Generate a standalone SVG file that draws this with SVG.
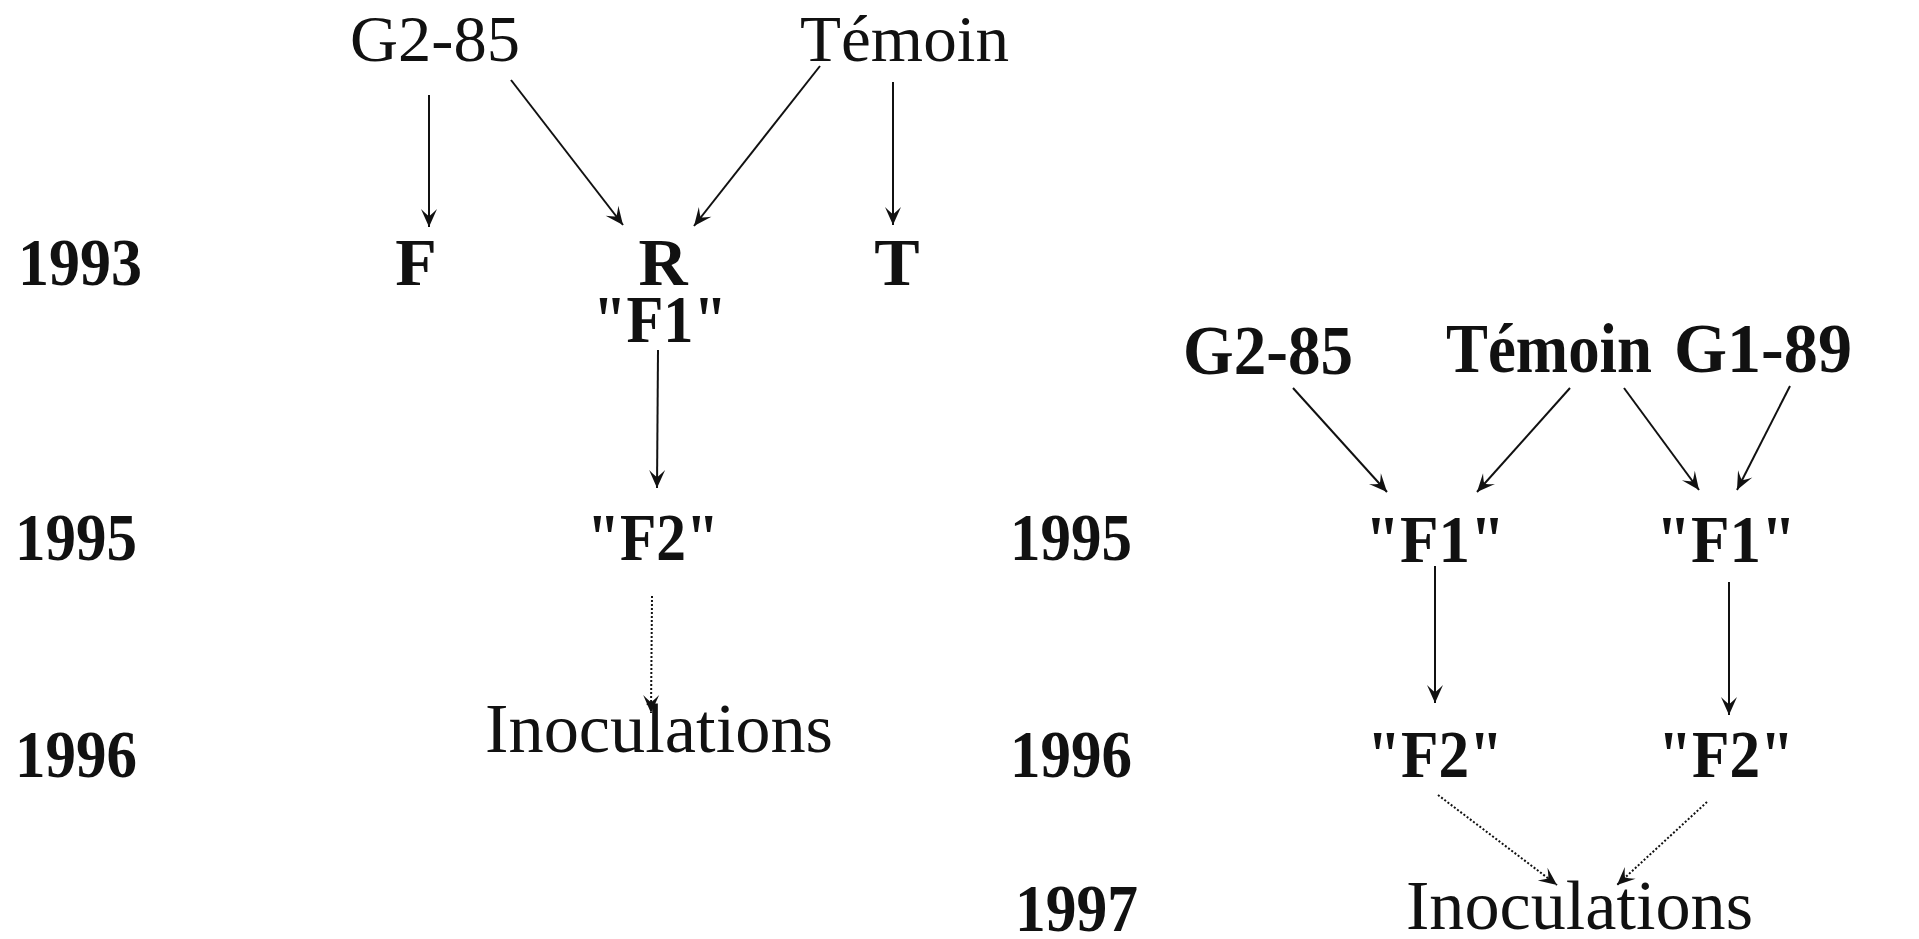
<svg xmlns="http://www.w3.org/2000/svg" width="1919" height="939" viewBox="0 0 1919 939">
  <style>
    text { font-family: "Liberation Serif", "Times New Roman", serif; fill: #111; }
    .lab { font-size: 66px; font-weight: normal; }
    .labb { font-size: 70px; font-weight: bold; }
    .yr { font-size: 67px; font-weight: bold; }
    .gen { font-size: 68px; font-weight: bold; }
    .ino { font-size: 70px; font-weight: normal; }
    .edge { stroke: #111; stroke-width: 2; fill: none; marker-end: url(#ah); }
    .dot { stroke-dasharray: 2 2; }
  </style>
  <defs>
    <marker id="ah" viewBox="-20 -10 22 20" refX="0" refY="0" markerWidth="22" markerHeight="20" orient="auto" markerUnits="userSpaceOnUse">
      <path d="M0,0 L-18,-8 Q-12,-2 -11,0 Q-12,2 -18,8 Z" fill="#111"/>
    </marker>
  </defs>

  <!-- year column, left scheme -->
  <g id="years-left">
    <text class="yr" x="18" y="285" textLength="124" lengthAdjust="spacingAndGlyphs">1993</text>
    <text class="yr" x="15" y="560" textLength="122" lengthAdjust="spacingAndGlyphs">1995</text>
    <text class="yr" x="15" y="777" textLength="122" lengthAdjust="spacingAndGlyphs">1996</text>
  </g>

  <!-- year column, right scheme -->
  <g id="years-right">
    <text class="yr" x="1010" y="560" textLength="122" lengthAdjust="spacingAndGlyphs">1995</text>
    <text class="yr" x="1010" y="777" textLength="122" lengthAdjust="spacingAndGlyphs">1996</text>
    <text class="yr" x="1015" y="931" textLength="123" lengthAdjust="spacingAndGlyphs">1997</text>
  </g>

  <!-- left scheme nodes -->
  <g id="l-g285"><text class="lab" x="350" y="61" textLength="170" lengthAdjust="spacingAndGlyphs">G2-85</text></g>
  <g id="l-temoin"><text class="lab" x="800" y="61" textLength="209" lengthAdjust="spacingAndGlyphs">Témoin</text></g>
  <g id="l-f"><text class="gen" x="416" y="285" text-anchor="middle">F</text></g>
  <g id="l-r"><text class="gen" x="663" y="285" text-anchor="middle">R</text></g>
  <g id="l-t"><text class="gen" x="897" y="285" text-anchor="middle">T</text></g>
  <g id="l-f1"><text class="gen" x="660" y="342" text-anchor="middle" textLength="134" lengthAdjust="spacingAndGlyphs">"F1"</text></g>
  <g id="l-f2"><text class="gen" x="653" y="560" text-anchor="middle" textLength="132" lengthAdjust="spacingAndGlyphs">"F2"</text></g>
  <g id="l-inoc"><text class="ino" x="485" y="752" textLength="348" lengthAdjust="spacingAndGlyphs">Inoculations</text></g>

  <!-- right scheme nodes -->
  <g id="r-g285"><text class="labb" x="1183" y="374" textLength="170" lengthAdjust="spacingAndGlyphs">G2-85</text></g>
  <g id="r-temoin"><text class="labb" x="1446" y="372" textLength="206" lengthAdjust="spacingAndGlyphs">Témoin</text></g>
  <g id="r-g189"><text class="labb" x="1674" y="372" textLength="178" lengthAdjust="spacingAndGlyphs">G1-89</text></g>
  <g id="r-f1a"><text class="gen" x="1435" y="562" text-anchor="middle" textLength="140" lengthAdjust="spacingAndGlyphs">"F1"</text></g>
  <g id="r-f1b"><text class="gen" x="1726" y="562" text-anchor="middle" textLength="140" lengthAdjust="spacingAndGlyphs">"F1"</text></g>
  <g id="r-f2a"><text class="gen" x="1435" y="777" text-anchor="middle" textLength="136" lengthAdjust="spacingAndGlyphs">"F2"</text></g>
  <g id="r-f2b"><text class="gen" x="1726" y="777" text-anchor="middle" textLength="136" lengthAdjust="spacingAndGlyphs">"F2"</text></g>
  <g id="r-inoc"><text class="ino" x="1406" y="929" textLength="347" lengthAdjust="spacingAndGlyphs">Inoculations</text></g>

  <!-- connectors -->
  <g id="connectors">
    <line class="edge" x1="429" y1="95" x2="429" y2="227"/>
    <line class="edge" x1="511" y1="80" x2="623" y2="225"/>
    <line class="edge" x1="820" y1="66" x2="694" y2="226"/>
    <line class="edge" x1="893" y1="82" x2="893" y2="225"/>
    <line class="edge" x1="658" y1="350" x2="657" y2="488"/>
    <line class="edge dot" x1="652" y1="596" x2="651" y2="713"/>

    <line class="edge" x1="1293" y1="388" x2="1387" y2="492"/>
    <line class="edge" x1="1570" y1="388" x2="1477" y2="492"/>
    <line class="edge" x1="1624" y1="388" x2="1699" y2="490"/>
    <line class="edge" x1="1790" y1="386" x2="1737" y2="490"/>
    <line class="edge" x1="1435" y1="566" x2="1435" y2="703"/>
    <line class="edge" x1="1729" y1="582" x2="1729" y2="715"/>
    <line class="edge dot" x1="1438" y1="795" x2="1557" y2="885"/>
    <line class="edge dot" x1="1707" y1="802" x2="1617" y2="885"/>
  </g>
</svg>
